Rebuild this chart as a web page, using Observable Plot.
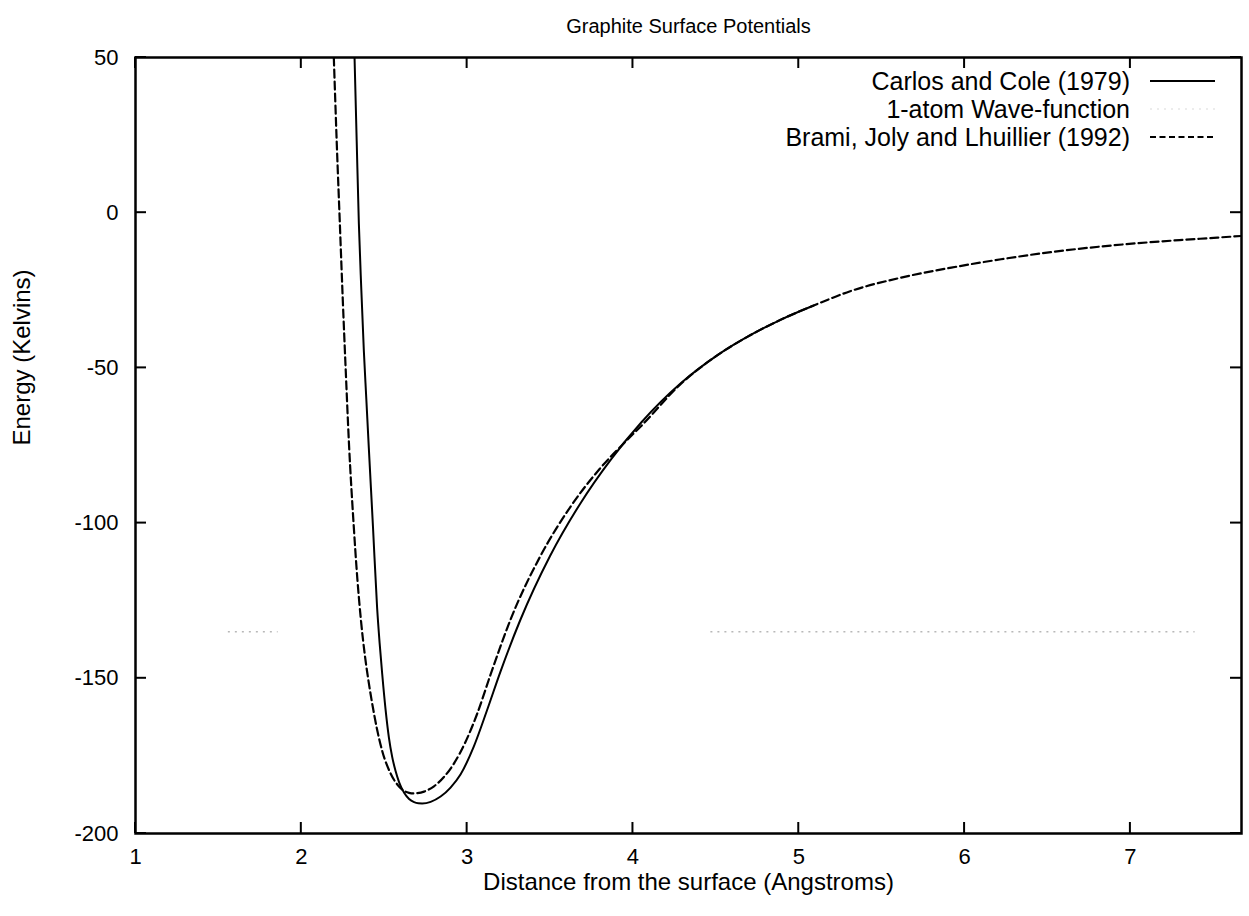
<!DOCTYPE html>
<html>
<head>
<meta charset="utf-8">
<script src="https://cdn.jsdelivr.net/npm/d3@7"></script>
<script src="https://cdn.jsdelivr.net/npm/@observablehq/plot@0.6"></script>
<style>
  body { margin: 0; background: #fff; }
  svg { display: block; }
</style>
</head>
<body>
<div id="chart"></div>
<script>
// Carlos and Cole (1979) graphite potential: distance (Å) vs energy (K)
const carlosX = [2.321, 2.334, 2.347, 2.362, 2.377, 2.392, 2.407, 2.432, 2.457, 2.472, 2.488, 2.508, 2.528, 2.548,
                 2.568, 2.59, 2.62, 2.65, 2.68, 2.705, 2.729,
                 2.78, 2.84, 2.90, 2.96, 3.04, 3.12, 3.20, 3.32, 3.50, 3.68, 3.87, 4.05, 4.29, 4.51, 4.71, 4.89, 5.09];
const carlosE = [50, 23, -3.5, -25, -44.4, -60, -75.7, -101, -127.2, -138.5, -148.7, -160, -169, -175.3,
                 -179.8, -183.5, -186.9, -188.9, -189.9, -190.25, -190.3,
                 -189.8, -188.1, -185.2, -181, -172, -160.3, -148, -131.3, -110.6, -93.9, -79.3, -67.6, -54.9, -45.9, -39.4, -34.5, -29.9];

// Brami, Joly and Lhuillier (1992)
const bramiX = [2.196, 2.214, 2.232, 2.250, 2.268, 2.287, 2.315, 2.338, 2.36, 2.383, 2.407, 2.432, 2.457, 2.49, 2.538,
                2.58, 2.618, 2.65, 2.675, 2.70, 2.74, 2.80, 2.86, 2.92, 2.99, 3.06, 3.14, 3.26, 3.44, 3.62,
                3.80, 3.95, 4.05, 4.29, 4.51, 4.71, 4.89, 5.09, 5.31, 5.61, 5.92, 6.22, 6.52, 6.82, 7.12, 7.42, 7.67];
const bramiE = [50, 22, -3, -28, -51, -74, -100, -118, -131.5, -142.5, -151.5, -159.5, -166.5, -173.8, -180.6,
                -184.3, -186.2, -186.9, -187.1, -187.0, -186.5, -184.8, -181.8, -177.5, -170.5, -161.5, -149, -131.3, -110.8, -95,
                -82.5, -74, -68.7, -55.1, -45.9, -39.4, -34.5, -29.9, -25.3, -21, -17.7, -15, -12.7, -10.9, -9.5, -8.4, -7.5];

// 1-atom wave-function level (faint segments)
const waveStart = [1.56, 4.47];
const waveEnd = [1.86, 7.39];
const waveLevel = -135;

// Axis ticks
const xTicks = [1, 2, 3, 4, 5, 6, 7];
const yTicks = [-200, -150, -100, -50, 0, 50];

const legendLabels = ["Carlos and Cole (1979)", "1-atom Wave-function", "Brami, Joly and Lhuillier (1992)"];

const carlos = carlosX.map((x, i) => ({x, e: carlosE[i]}));
const brami = bramiX.map((x, i) => ({x, e: bramiE[i]}));
const wave = waveStart.map((x1, i) => ({x1, x2: waveEnd[i], e: waveLevel}));

const W = 1249, H = 916;
const M = {top: 57, right: 8, bottom: 83, left: 135};
const font = "'Liberation Sans', Arial, Helvetica, sans-serif";
const TICK = 11;

const chart = Plot.plot({
  width: W,
  height: H,
  marginTop: M.top,
  marginRight: M.right,
  marginBottom: M.bottom,
  marginLeft: M.left,
  x: {domain: [1, 7.67]},
  y: {domain: [-200, 50]},
  style: {fontFamily: font, background: "#fff", color: "#000"},
  marks: [
    Plot.ruleY(wave, {x1: "x1", x2: "x2", y: "e", stroke: "#b8b8b8", strokeWidth: 1.5, strokeDasharray: "2,5"}),
    Plot.line(carlos, {x: "x", y: "e", curve: "monotone-x", stroke: "#000", strokeWidth: 2, clip: true}),
    Plot.line(brami, {x: "x", y: "e", curve: "monotone-x", stroke: "#000", strokeWidth: 2.2, strokeDasharray: "8,4", clip: true}),
    Plot.axisX(xTicks, {anchor: "bottom", tickSize: 0, tickPadding: 15, fontSize: 22, tickFormat: d => String(d), label: null}),
    Plot.axisY(yTicks, {anchor: "left", tickSize: 0, tickPadding: 17, fontSize: 22, tickFormat: d => String(d), label: null}),
    Plot.frame({stroke: "#000", strokeWidth: 2.5}),
    Plot.text(["Graphite Surface Potentials"], {frameAnchor: "top", dy: -39, fontSize: 20}),
    Plot.text(["Distance from the surface (Angstroms)"], {frameAnchor: "bottom", dy: 56, fontSize: 24}),
    Plot.text(["Energy (Kelvins)"], {frameAnchor: "left", dx: -113, rotate: -90, fontSize: 24})
  ]
});

const svg = d3.select(chart);
const sx = chart.scale("x");
const sy = chart.scale("y");
const frameLeft = M.left, frameRight = W - M.right, frameTop = M.top, frameBottom = H - M.bottom;

// Inward tick marks on all four sides, placed with the plot's own scales
const tickGroup = svg.append("g").attr("stroke", "#000").attr("stroke-width", 2);
xTicks.forEach(t => {
  const px = sx.apply(t);
  tickGroup.append("line").attr("x1", px).attr("x2", px).attr("y1", frameBottom).attr("y2", frameBottom - TICK);
  tickGroup.append("line").attr("x1", px).attr("x2", px).attr("y1", frameTop).attr("y2", frameTop + TICK);
});
yTicks.forEach(t => {
  const py = sy.apply(t);
  tickGroup.append("line").attr("x1", frameLeft).attr("x2", frameLeft + TICK).attr("y1", py).attr("y2", py);
  tickGroup.append("line").attr("x1", frameRight).attr("x2", frameRight - TICK).attr("y1", py).attr("y2", py);
});

// Key in the upper-right corner of the frame
const key = svg.append("g").attr("font-family", font).attr("font-size", 25);
const keyStyles = [
  {stroke: "#000", dash: null, width: 2},
  {stroke: "#e6e6e6", dash: "2,5", width: 1.5},
  {stroke: "#000", dash: "6,3.5", width: 2}
];
legendLabels.forEach((label, i) => {
  const y = frameTop + 24 + i * 28;
  key.append("text")
    .attr("x", frameRight - 111)
    .attr("y", y)
    .attr("dy", "0.35em")
    .attr("text-anchor", "end")
    .text(label);
  const s = keyStyles[i];
  key.append("line")
    .attr("x1", frameRight - 91).attr("x2", frameRight - 26)
    .attr("y1", y).attr("y2", y)
    .attr("stroke", s.stroke)
    .attr("stroke-width", s.width)
    .attr("stroke-dasharray", s.dash);
});

document.getElementById("chart").appendChild(chart);
</script>
</body>
</html>
